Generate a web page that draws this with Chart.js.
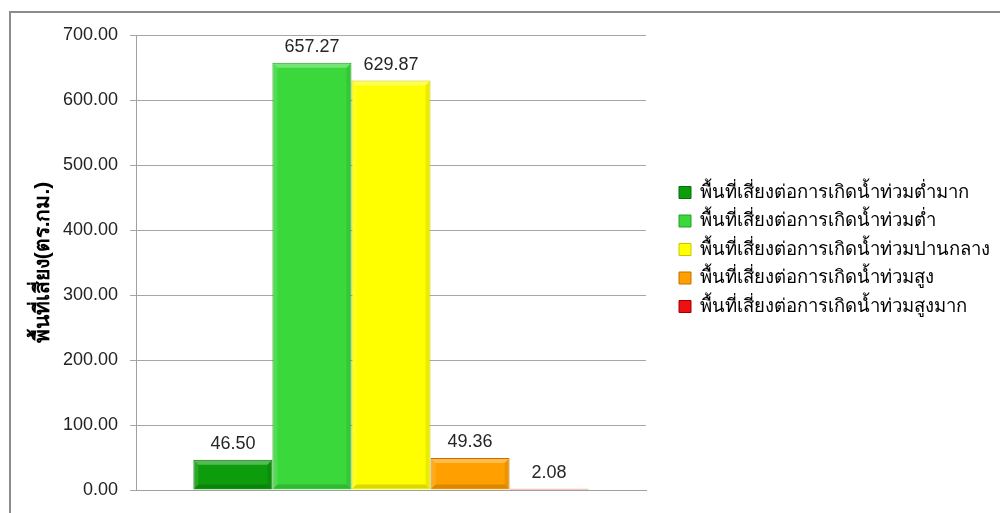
<!DOCTYPE html>
<html>
<head>
<meta charset="utf-8">
<script src="https://cdn.jsdelivr.net/npm/chart.js@4.4.0/dist/chart.umd.min.js"></script>
<style>
  html, body { margin: 0; padding: 0; background: #fff; overflow: hidden; }
  #wrap { position: relative; width: 1000px; height: 513px; }
  #frame { position: absolute; left: 9px; top: 11px; width: 1100px; height: 600px; border: 2px solid #8c8c8c; box-sizing: border-box; }
  canvas { position: absolute; left: 0; top: 0; }
</style>
</head>
<body>
<div id="wrap">
  <div id="frame"></div>
  <canvas id="c" width="1000" height="513"></canvas>
</div>
<script>
const categories = [''];
const seriesNames = [
  'พื้นที่เสี่ยงต่อการเกิดน้ำท่วมต่ำมาก',
  'พื้นที่เสี่ยงต่อการเกิดน้ำท่วมต่ำ',
  'พื้นที่เสี่ยงต่อการเกิดน้ำท่วมปานกลาง',
  'พื้นที่เสี่ยงต่อการเกิดน้ำท่วมสูง',
  'พื้นที่เสี่ยงต่อการเกิดน้ำท่วมสูงมาก'
];
const seriesValues = [46.50, 657.27, 629.87, 49.36, 2.08];
const seriesColors = ['#0c9c0c', '#3ad83a', '#ffff00', '#ffa000', '#ee1111'];
const seriesBorders = ['#067006', '#22a022', '#c8c800', '#c07000', '#a00000'];
const yAxisTitle = 'พื้นที่เสี่ยง(ตร.กม.)';
const yMin = 0, yMax = 700, yStep = 100;

const FONT = "'Liberation Sans', 'Noto Sans', sans-serif";
const LEGEND_WIDTH = 354;

const valueLabels = {
  id: 'valueLabels',
  afterDatasetsDraw(chart) {
    const ctx = chart.ctx;
    ctx.save();
    ctx.font = '18px ' + FONT;
    ctx.fillStyle = '#262626';
    ctx.textAlign = 'center';
    ctx.textBaseline = 'middle';
    chart.data.datasets.forEach((ds, i) => {
      const meta = chart.getDatasetMeta(i);
      meta.data.forEach((bar, j) => {
        ctx.fillText(Number(ds.data[j]).toFixed(2), bar.x, bar.y - 16);
      });
    });
    ctx.restore();
  }
};

const bevel = {
  id: 'bevel',
  afterDatasetsDraw(chart) {
    const ctx = chart.ctx;
    ctx.save();
    chart.data.datasets.forEach((ds, i) => {
      const meta = chart.getDatasetMeta(i);
      meta.data.forEach(bar => {
        const l = bar.x - bar.width / 2, r = bar.x + bar.width / 2;
        const t = bar.y, b = bar.base;
        const h = b - t;
        if (h < 6) return;
        const e = Math.min(5, h / 3);
        ctx.fillStyle = 'rgba(255,255,255,0.30)';
        ctx.beginPath();
        ctx.moveTo(l + 1, t + 1); ctx.lineTo(r - 1, t + 1); ctx.lineTo(r - e, t + e); ctx.lineTo(l + e, t + e); ctx.closePath();
        ctx.fill();
        ctx.fillStyle = 'rgba(0,0,0,0.15)';
        ctx.beginPath();
        ctx.moveTo(l + 1, b - 1); ctx.lineTo(r - 1, b - 1); ctx.lineTo(r - e, b - e); ctx.lineTo(l + e, b - e); ctx.closePath();
        ctx.fill();
        ctx.fillStyle = 'rgba(0,0,0,0.08)';
        ctx.beginPath();
        ctx.moveTo(r - 1, t + 1); ctx.lineTo(r - 1, b - 1); ctx.lineTo(r - e, b - e); ctx.lineTo(r - e, t + e); ctx.closePath();
        ctx.fill();
        ctx.fillStyle = 'rgba(255,255,255,0.12)';
        ctx.beginPath();
        ctx.moveTo(l + 1, t + 1); ctx.lineTo(l + 1, b - 1); ctx.lineTo(l + e, b - e); ctx.lineTo(l + e, t + e); ctx.closePath();
        ctx.fill();
      });
    });
    ctx.restore();
  }
};

// fix legend box width and nudge its items to match the reference layout
const legendPlace = {
  id: 'legendPlace',
  beforeLayout(chart) {
    const lg = chart.legend;
    if (lg && !lg._patched) {
      const orig = lg.fit.bind(lg);
      lg.fit = function () { orig(); this.width = LEGEND_WIDTH; };
      lg._patched = true;
    }
  },
  afterLayout(chart) {
    const lg = chart.legend;
    if (!lg) return;
    lg.left += 23;
    lg.bottom -= 34;
  }
};

const datasets = seriesNames.map((name, i) => ({
  label: name,
  data: [seriesValues[i]],
  backgroundColor: seriesColors[i],
  borderColor: seriesBorders[i],
  borderWidth: 1,
  categoryPercentage: 0.775,
  barPercentage: 1.0
}));

new Chart(document.getElementById('c'), {
  type: 'bar',
  data: { labels: categories, datasets },
  options: {
    responsive: false,
    animation: false,
    devicePixelRatio: 1,
    layout: { padding: { left: 0, right: 0, top: 35, bottom: 15 } },
    plugins: {
      tooltip: { enabled: false },
      legend: {
        position: 'right',
        align: 'center',
        maxWidth: LEGEND_WIDTH,
        labels: {
          font: { family: FONT, size: 18.5 },
          color: '#000',
          boxWidth: 12,
          boxHeight: 12,
          padding: 10
        }
      }
    },
    scales: {
      x: {
        ticks: { display: false },
        grid: { display: false },
        border: { display: true, color: '#a0a0a0' }
      },
      y: {
        min: yMin, max: yMax,
        ticks: {
          stepSize: yStep,
          padding: 12,
          color: '#222',
          font: { family: FONT, size: 18 },
          callback: v => Number(v).toFixed(2)
        },
        grid: { color: '#a6a6a6', tickLength: 6, drawTicks: true },
        border: { display: true, color: '#a0a0a0' },
        title: {
          display: true,
          text: yAxisTitle,
          font: { family: FONT, size: 21, weight: 'bold' },
          color: '#000',
          padding: { top: 31, bottom: 0 }
        },
        afterFit(scale) { scale.width = 136; }
      }
    }
  },
  plugins: [legendPlace, valueLabels, bevel]
});
</script>
</body>
</html>
